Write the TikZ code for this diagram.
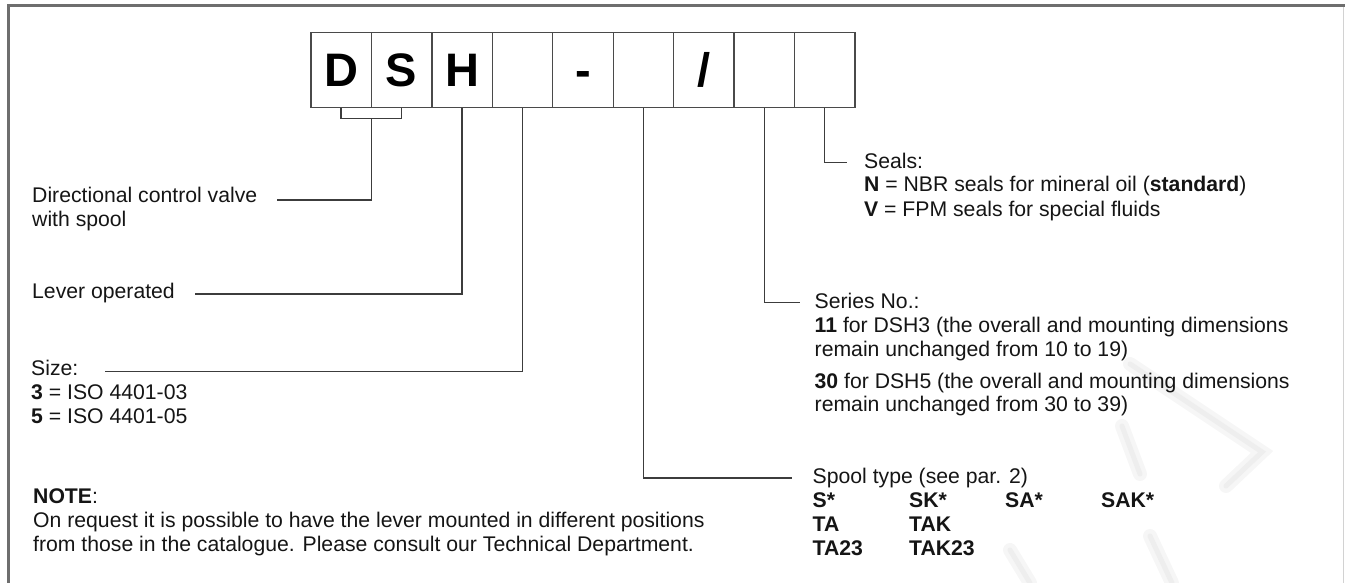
\documentclass[tikz,border=0pt]{standalone}
\usepackage{fontspec}
\setmainfont{Liberation Sans}
\usetikzlibrary{calc}
\definecolor{framegray}{HTML}{6E6E6E}
\definecolor{boxgray}{HTML}{4A4A4A}
\definecolor{linegray}{HTML}{3C3C3C}
\definecolor{txt}{HTML}{151515}
\definecolor{wmarkA}{HTML}{F6F6F6}
\definecolor{wmarkB}{HTML}{EEEEEE}
\newcommand\blk[1]{\begin{tabular}[t]{@{}l@{}}#1\end{tabular}}
\begin{document}
\begin{tikzpicture}[x=1pt,y=-1pt,
  cell/.style={draw=boxgray, line width=1.4pt, minimum width=60.44pt, minimum height=75pt,
    inner sep=0pt, text height=34pt, text depth=0pt, text=black, font=\fontsize{47}{50}\selectfont\bfseries},
  lbl/.style={anchor=base west, inner sep=0pt, text=txt, font=\fontsize{21.2}{24}\selectfont},
  conn/.style={draw=linegray, line width=1.5pt},
  frame/.style={draw=framegray, line width=2.5pt},
  wmA/.style={draw=wmarkA, line width=14pt, line cap=round},
  wmB/.style={draw=wmarkB, line width=5pt, line cap=round}]
\useasboundingbox (0,0) rectangle (1345,583);
% faint watermark
\foreach \s in {wmA,wmB}{
  \draw[\s] (1130,364) -- (1262,452) -- (1226,486);
  \draw[\s] (1122,426) -- (1140,474);
  \draw[\s] (1010,550) -- (1030,583);
  \draw[\s] (1150,536) -- (1172,583);
}
% frame
\draw[frame] (8.5,583) -- (8.5,5.5) -- (1345,5.5);
\draw[draw=gray!35, line width=1pt] (1343.5,7) -- (1343.5,583);
% code cells
\foreach \i/\t in {1/D,2/S,3/H,4/{},5/{-},6/{},7/{/},8/{},9/{}}{
  \node[cell] (c\i) at ({311+60.44*(\i-0.5)},70) {\t};
}
% labels
\node[lbl] (dir) at (32,203) {\blk{Directional control valve\\with spool}};
\node[lbl] (lev) at (32,298) {Lever operated};
\node[lbl] (size) at (31,375) {\blk{Size:\\\textbf{3} = ISO 4401-03\\\textbf{5} = ISO 4401-05}};
\node[lbl] (note) at (33,503) {\blk{\textbf{NOTE}:\\On request it is possible to have the lever mounted in different positions\\from those in the catalogue. Please consult our Technical Department.}};
\node[lbl] (seals) at (864,168) {\blk{Seals:\\\textbf{N} = NBR seals for mineral oil (\textbf{standard})\\\textbf{V} = FPM seals for special fluids}};
\node[lbl] (series) at (814.5,308) {\blk{Series No.:\\\textbf{11} for DSH3 (the overall and mounting dimensions\\remain unchanged from 10 to 19)\\[8pt]\textbf{30} for DSH5 (the overall and mounting dimensions\\remain unchanged from 30 to 39)}};
\node[lbl] (spool) at (812.5,483) {\begin{tabular}[t]{@{}p{96.5pt}@{}p{96pt}@{}p{96pt}@{}l@{}}
\multicolumn{4}{@{}l@{}}{Spool type (see par. 2)}\\
\textbf{S*} & \textbf{SK*} & \textbf{SA*} & \textbf{SAK*}\\
\textbf{TA} & \textbf{TAK} & & \\
\textbf{TA23} & \textbf{TAK23} & & \end{tabular}};
% connector end points
\coordinate (brk) at ($(c1.south)!0.5!(c2.south)+(0,10.5)$);
\coordinate (dirE) at (277,200);
\coordinate (levE) at (195,294);
\coordinate (sizeE) at (105,371.5);
\coordinate (spoolE) at (792,478);
\coordinate (seriesE) at (800,302.5);
\coordinate (sealsE) at (847,162.5);
% connectors
\draw[conn] (c1.south) -- ++(0,10.5) -| (c2.south);
\draw[conn] (brk) |- (dirE);
\draw[conn] (c3.south) |- (levE);
\draw[conn] (c4.south) |- (sizeE);
\draw[conn] (c6.south) |- (spoolE);
\draw[conn] (c8.south) |- (seriesE);
\draw[conn] (c9.south) |- (sealsE);
\end{tikzpicture}
\end{document}
